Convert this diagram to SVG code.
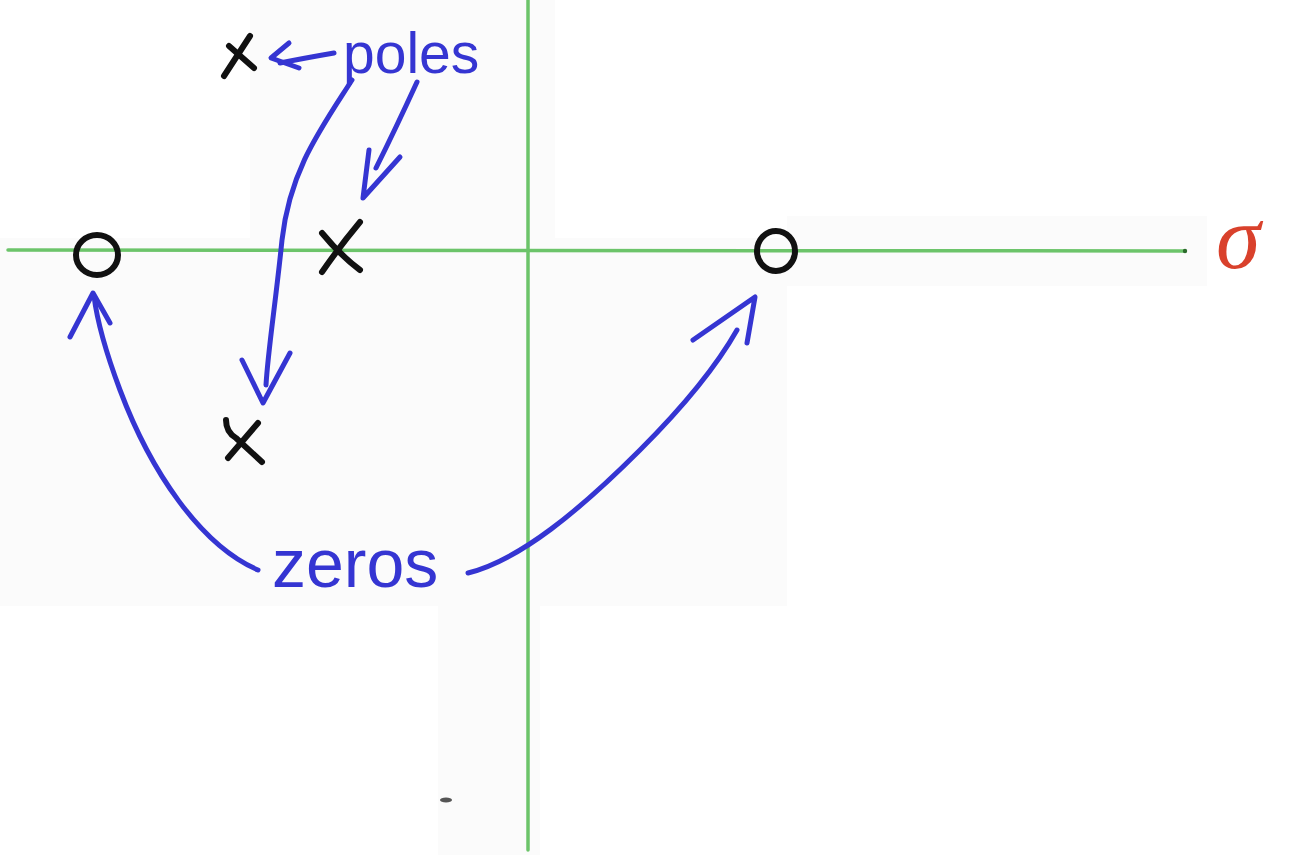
<svg xmlns="http://www.w3.org/2000/svg" width="1293" height="855" viewBox="0 0 1293 855">
  <defs>
    <style>
      .bg { fill: #fbfbfb; }
      .axis { stroke: #6cc46a; stroke-width: 3.5; fill: none; stroke-linecap: round; }
      .ink { stroke: #111; stroke-width: 6; fill: none; stroke-linecap: round; stroke-linejoin: round; }
      .blue { stroke: #3535d2; stroke-width: 5; fill: none; stroke-linecap: round; stroke-linejoin: round; }
      .lbl { fill: #3535d2; font-family: "Liberation Sans", Arial, sans-serif; }
      .sig { fill: #d9412c; font-family: "Liberation Serif", "Times New Roman", serif; font-style: italic; }
    </style>
  </defs>
  <rect width="1293" height="855" fill="#ffffff"/>
  <g id="background">
    <rect class="bg" x="250" y="0" width="305" height="238"/>
    <rect class="bg" x="0" y="238" width="787" height="368"/>
    <rect class="bg" x="787" y="216" width="420" height="70"/>
    <rect class="bg" x="438" y="606" width="102" height="249"/>
    <ellipse cx="446" cy="800" rx="6" ry="2.5" fill="#555"/>
  </g>
  <g id="axes">
    <line class="axis" x1="8" y1="250" x2="1185" y2="251"/>
    <circle cx="1185" cy="251" r="2.2" fill="#2c6a2c"/>
    <line class="axis" x1="528" y1="0" x2="528" y2="850"/>
    <text id="sigma-label" class="sig" x="1216" y="268" font-size="90">σ</text>
  </g>
  <g id="pole-top">
    <path class="ink" d="M224,76 L250,36"/>
    <path class="ink" d="M229,46 L254,68"/>
  </g>
  <g id="pole-axis">
    <path class="ink" d="M322,272 Q340,246 360,222"/>
    <path class="ink" d="M322,233 Q340,255 360,270"/>
  </g>
  <g id="pole-bottom">
    <path class="ink" d="M228,458 L258,423"/>
    <path class="ink" d="M226,420 Q226,432 236,438 L262,462"/>
  </g>
  <g id="zero-left">
    <ellipse class="ink" cx="97" cy="255" rx="21" ry="20"/>
  </g>
  <g id="zero-right">
    <ellipse class="ink" cx="776" cy="251" rx="19" ry="20"/>
  </g>
  <g id="labels">
    <text id="poles-label" class="lbl" x="343" y="73" font-size="57">poles</text>
    <text id="zeros-label" class="lbl" x="272" y="587" font-size="68">zeros</text>
  </g>
  <g id="connectors">
    <path class="blue" d="M334,53 Q305,58 280,63"/>
    <path class="blue" d="M289,43 L271,58 L299,68"/>
    <path class="blue" d="M352,80 C320,130 290,170 282,240 C276,300 268,350 266,385"/>
    <path class="blue" d="M242,360 L263,403 L290,353"/>
    <path class="blue" d="M417,82 Q395,130 376,168"/>
    <path class="blue" d="M369,150 L363,198 L400,157"/>
    <path class="blue" d="M258,570 C200,545 150,470 120,390 C105,350 97,320 94,296"/>
    <path class="blue" d="M70,337 L93,293 L110,323"/>
    <path class="blue" d="M468,573 C520,560 580,510 640,450 C690,400 720,360 737,330"/>
    <path class="blue" d="M693,340 L755,297 L747,343"/>
  </g>
</svg>
